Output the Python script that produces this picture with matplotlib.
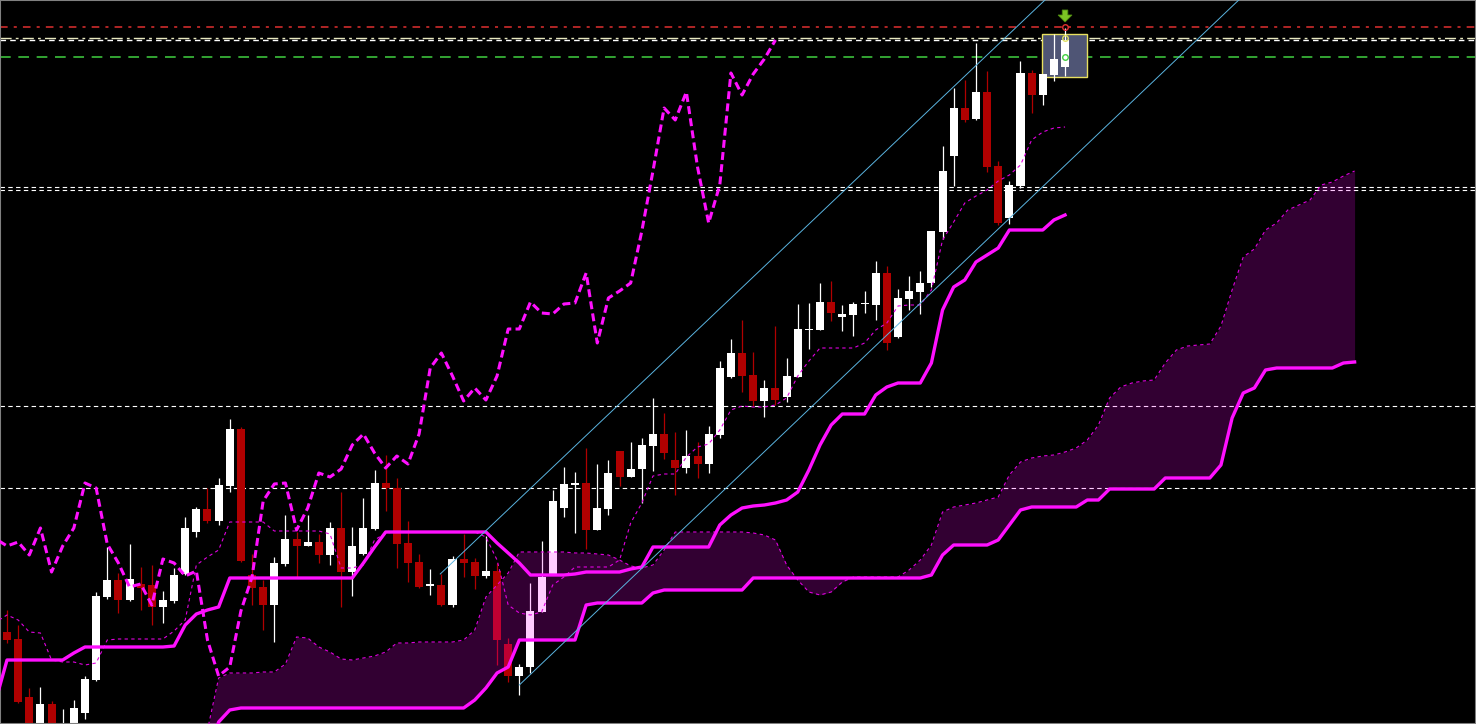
import numpy as np
import matplotlib
matplotlib.use("Agg")
import matplotlib.pyplot as plt
from matplotlib.patches import Rectangle, FancyArrow


# candles, bar 0 .. 95 (price in chart points)
opens = [92, 85, 27, -16, 20, -21, -16, 11, 44, 127,
         144, 124, 140, 139, 117, 123, 150, 192, 215, 203,
         238, 295, 149, 137, 119, 160, 185, 178, 182, 169,
         196, 152, 170, 195, 241, 236, 181, 162, 138, 139,
         119, 165, 162, 148, 153, 80, 48, 57, 112, 150,
         216, 239, 241, 194, 215, 273, 247, 255, 278, 290,
         264, 256, 268, 260, 289, 347, 371, 349, 323, 336,
         327, 347, 394, 394, 422, 407, 409, 420, 419, 451,
         387, 425, 432, 441, 492, 568, 616, 605, 632, 558,
         506, 538, 651, 629, 649, 657]
highs = [114, 99, 36, 37, 23, 15, 24, 48, 132, 177,
         151, 180, 157, 159, 133, 156, 207, 217, 236, 246,
         305, 297, 170, 144, 167, 209, 192, 209, 190, 202,
         232, 197, 226, 254, 269, 246, 203, 170, 155, 150,
         168, 190, 166, 188, 161, 86, 60, 141, 183, 234,
         257, 252, 276, 260, 264, 273, 282, 286, 326, 311,
         292, 294, 282, 298, 363, 385, 404, 372, 344, 398,
         366, 420, 421, 441, 443, 419, 422, 433, 463, 458,
         435, 448, 453, 493, 578, 636, 644, 681, 653, 563,
         543, 663, 654, 650, 690, 696]
lows = [81, 21, -21, -26, -21, -26, -21, 5, 43, 125,
        111, 123, 114, 99, 101, 121, 149, 187, 201, 199,
        232, 162, 119, 94, 82, 158, 147, 178, 161, 159,
        117, 128, 169, 194, 213, 156, 142, 136, 129, 118,
        117, 147, 135, 146, 59, 42, 29, 51, 112, 149,
        207, 191, 175, 194, 209, 238, 247, 221, 253, 265,
        229, 251, 246, 251, 286, 346, 332, 318, 307, 319,
        322, 347, 375, 394, 403, 393, 388, 411, 404, 374,
        386, 414, 410, 437, 485, 538, 602, 604, 552, 499,
        500, 536, 611, 619, 643, 648]
closes = [84, 22, -11, 20, -16, -11, 16, 45, 128, 144,
          124, 145, 136, 117, 124, 149, 196, 215, 203, 239,
          295, 163, 136, 119, 161, 185, 178, 182, 169, 196,
          152, 178, 196, 241, 236, 180, 161, 137, 140, 119,
          165, 161, 148, 153, 84, 48, 57, 113, 147, 223,
          240, 241, 194, 216, 251, 247, 255, 279, 290, 271,
          256, 268, 260, 290, 356, 371, 348, 323, 336, 324,
          348, 395, 395, 422, 411, 410, 420, 421, 451, 381,
          426, 433, 441, 493, 553, 616, 604, 632, 557, 501,
          539, 651, 629, 650, 665, 684]

# ichimoku lines, bar -1 .. 95
tenkan = [102, 109, 104, 92, 91, 64, 62, 62, 59, 61,
          84, 85, 85, 85, 85, 85, 93, 104, 159, 167,
          174, 202, 202, 202, 202, 193, 193, 193, 193, 193,
          190, 156, 156, 159, 184, 191, 192, 192, 192, 192,
          192, 192, 192, 192, 187, 164, 119, 111, 109, 112,
          139, 147, 157, 157, 157, 157, 164, 201, 221, 248,
          250, 250, 267, 277, 280, 294, 314, 318, 317, 317,
          319, 326, 348, 363, 376, 376, 376, 376, 381, 394,
          401, 418, 419, 419, 434, 484, 502, 521, 528, 534,
          543, 549, 559, 584, 592, 596, 597]
kijun = [24, 64, 64, 64, 64, 64, 64, 71, 77, 77,
         77, 77, 77, 77, 77, 77, 78, 99, 110, 114,
         117, 146, 146, 146, 146, 146, 146, 146, 146, 146,
         146, 146, 146, 161, 177, 192, 192, 192, 192, 192,
         192, 192, 192, 192, 192, 181, 171, 161, 149, 149,
         149, 149, 150, 152, 152, 152, 152, 155, 157, 177,
         177, 177, 177, 177, 177, 199, 209, 216, 218, 219,
         221, 224, 232, 254, 279, 299, 310, 310, 310, 329,
         337, 341, 341, 341, 361, 414, 437, 444, 462, 469,
         476, 494, 494, 494, 494, 504, 509]

# cloud, bar 18 .. 121 (already shifted forward)
senkou_a = [-6, 46, 51, 51, 51, 52, 52, 60, 87, 86,
            77, 72, 65, 64, 66, 68, 72, 81, 81, 82,
            82, 82, 82, 84, 94, 127, 139, 151, 172, 172,
            172, 172, 172, 171, 171, 170, 169, 164, 158, 156,
            159, 174, 192, 192, 192, 192, 192, 192, 192, 191,
            189, 184, 159, 144, 132, 129, 132, 142, 147, 147,
            147, 147, 147, 154, 164, 179, 212, 217, 219, 221,
            224, 227, 249, 262, 266, 268, 269, 272, 276, 284,
            299, 326, 337, 341, 343, 344, 361, 374, 378, 379,
            380, 398, 434, 467, 475, 494, 501, 514, 519, 524,
            539, 542, 548, 553]
senkou_b = [-36, 2, 14, 16, 16, 16, 16, 16, 16, 16,
            16, 16, 16, 16, 16, 16, 16, 16, 16, 16,
            16, 16, 16, 16, 24, 36, 51, 57, 84, 84,
            84, 84, 84, 84, 119, 121, 121, 121, 121, 121,
            131, 134, 134, 134, 134, 134, 134, 134, 134, 146,
            146, 146, 146, 146, 146, 146, 146, 146, 146, 146,
            146, 146, 146, 146, 146, 149, 169, 179, 179, 179,
            179, 184, 199, 214, 217, 217, 217, 217, 217, 224,
            224, 235, 235, 235, 235, 235, 246, 246, 246, 246,
            246, 259, 306, 331, 336, 354, 356, 356, 356, 356,
            356, 356, 361, 362]

# drawn objects
channel_upper = [(38.9, 150), (93.2, 724)]
channel_lower = [(46.0, 39), (110.6, 724)]
dashed_levels = [537, 534, 318, 236]
stop_level = 697
entry_levels = [686, 684]
target_level = 667
box = (92.9, 647, 4.05, 43)


def main():
    n = len(closes)
    x = np.arange(n)
    o = np.array(opens)
    c = np.array(closes)
    bull = c >= o

    fig = plt.figure(figsize=(14.76, 7.24), dpi=100, facecolor='black')
    ax = fig.add_axes([0, 0, 1, 1], facecolor='black')

    # candles
    col = np.where(bull, '#ffffff', '#b00000')
    ax.vlines(x, lows, highs, colors=col, lw=0.9, zorder=2)
    body = np.maximum(np.abs(c - o), 1.2)
    ax.bar(x, body, bottom=np.minimum(o, c), width=0.72, color=col, lw=0, zorder=2)

    # cloud
    xs = np.arange(18, 18 + len(senkou_a))
    ax.fill_between(xs, senkou_a, senkou_b, color='#ff00ff', alpha=0.2, lw=0, zorder=3)
    ax.plot(xs, senkou_a, color='#e000e0', lw=0.8, ls=(0, (3, 3)), zorder=4)
    ax.plot(xs, senkou_b, color='#ff10ff', lw=2.4, zorder=4)

    xl = np.arange(-1, n)
    ax.plot(xl, tenkan, color='#e000e0', lw=0.8, ls=(0, (3, 3)), zorder=4)
    ax.plot(xl, kijun, color='#ff10ff', lw=2.4, zorder=4)
    # chikou = close shifted back 26 bars
    ax.plot(np.arange(-1, n - 26), closes[25:], color='#ff10ff', lw=2.2,
            ls=(0, (2.6, 1.4)), zorder=4)

    for p in [channel_upper, channel_lower]:
        ax.plot([p[0][0], p[1][0]], [p[0][1], p[1][1]], color='#5ab4e0', lw=0.7, zorder=4)

    for lv in dashed_levels:
        ax.axhline(lv, color='white', lw=0.8, ls=(0, (4, 3)), zorder=1)
    ax.axhline(stop_level, color='#e03030', lw=1.1, ls=(0, (5, 4, 2, 4)), zorder=1)
    ax.axhline(entry_levels[0], color='#e8e8c0', lw=1.0, ls=(0, (8, 3, 2, 3)), zorder=1)
    ax.axhline(entry_levels[1], color='white', lw=1.0, ls=(0, (4, 3)), zorder=1)
    ax.axhline(target_level, color='#40d040', lw=1.1, ls=(0, (7, 5)), zorder=1)

    ax.add_patch(Rectangle(box[:2], box[2], box[3], facecolor='#4f5575',
                           edgecolor='#e8e060', lw=1, zorder=1.5))
    last = n - 1
    ax.plot(last, stop_level, 'o', mfc='none', mec='#e03030', ms=4, zorder=5)
    ax.plot(last, entry_levels[0], 'o', mfc='none', mec='#e0e060', ms=4, zorder=5)
    ax.plot(last, target_level, 'o', mfc='none', mec='#40d040', ms=4, zorder=5)
    ax.add_patch(FancyArrow(last, 714, 0, -12, width=0.5, head_width=1.25, head_length=7,
                            length_includes_head=True, facecolor='#7cc424',
                            edgecolor='#4e8a10', lw=0.6, zorder=5))

    ax.set_xlim(-0.63, 131.9)
    ax.set_ylim(0, 724)
    ax.set_xticks([])
    ax.set_yticks([])
    for s in ax.spines.values():
        s.set_color('#808080')
        s.set_linewidth(1.5)

    fig.savefig('out.png', dpi=100, facecolor='black')


if __name__ == '__main__':
    main()
